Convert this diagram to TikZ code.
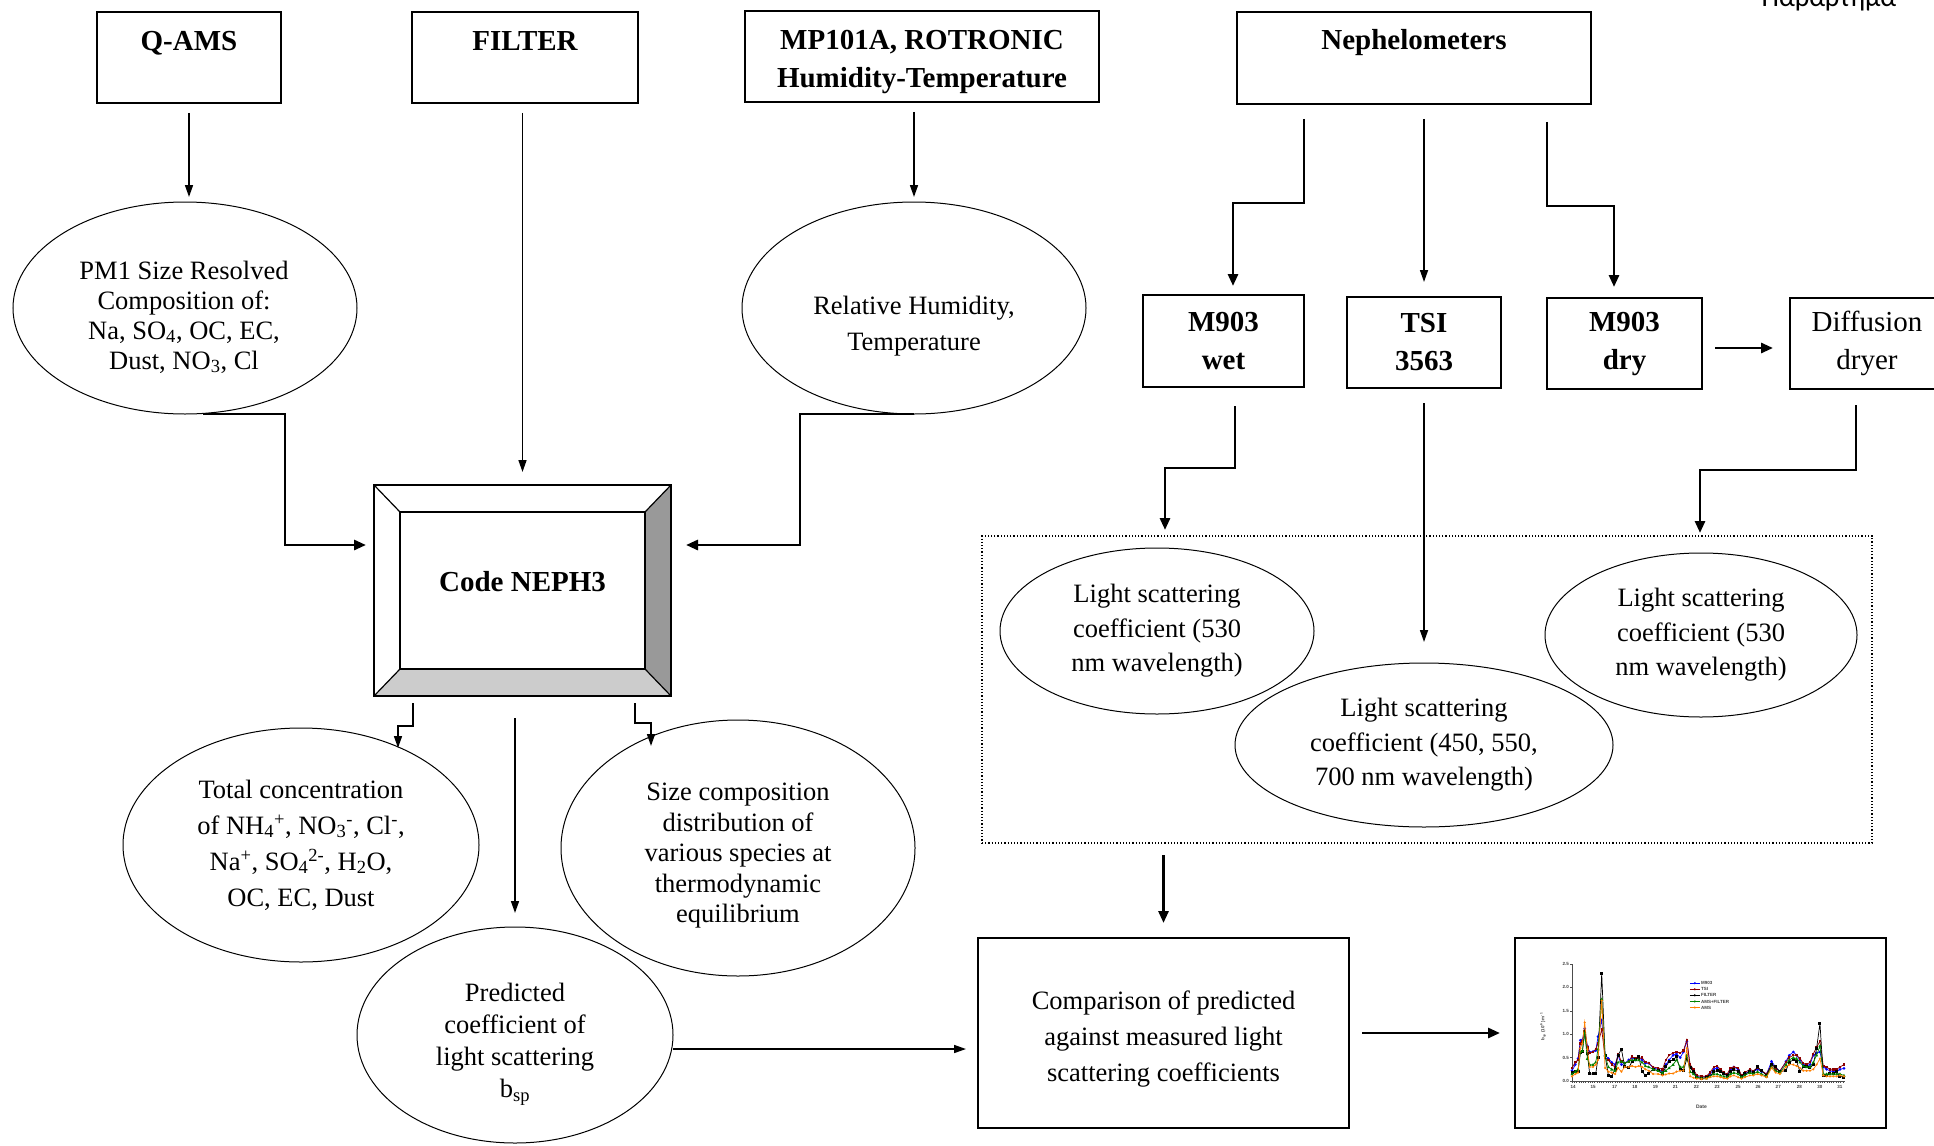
\documentclass[tikz,border=0pt]{standalone}
\usepackage{fontspec}
\setmainfont{Liberation Serif}
\newfontfamily\greekfont{Carlito}
\newfontfamily\chartfont{Liberation Sans}
\usetikzlibrary{arrows.meta,shapes.geometric}

\definecolor{bevdark}{gray}{0.6}
\definecolor{bevlight}{gray}{0.8}
\definecolor{srsmaroon}{RGB}{140,0,0}
\definecolor{srsgreen}{RGB}{0,130,0}
\definecolor{srsorange}{RGB}{255,128,0}

\tikzset{
  topbox/.style={draw, line width=2pt, rectangle, inner sep=0pt, outer sep=0pt},
  rbox/.style={draw, line width=2pt, rectangle, inner sep=0pt, outer sep=0pt, align=center},
  ell/.style={draw, ellipse, line width=1pt, inner sep=0pt, outer sep=0pt, align=center,
              font=\fontsize{26.5pt}{#1}\selectfont},
  ell/.default=34pt,
  btxt/.style={inner sep=0pt, align=center, font=\fontsize{29pt}{38pt}\selectfont\bfseries},
  rtxt/.style={inner sep=0pt, align=center, font=\fontsize{26.5pt}{#1}\selectfont},
  rtxt/.default=32pt,
  bfont/.style={font=\fontsize{29pt}{38pt}\selectfont\bfseries},
  arr/.style={line width=1.6pt, -{Triangle[length=12pt,width=8pt]}},
  tarr/.style={line width=2.8pt, -{Triangle[length=12pt,width=10pt]}},
  tiny/.style={inner sep=0pt, text=black!75, font=\chartfont\bfseries\fontsize{4.5pt}{5pt}\selectfont},
}

\begin{document}
\begin{tikzpicture}[x=1pt,y=-1pt]
\useasboundingbox (0,0) rectangle (1934,1145);
\clip (0,0) rectangle (1934,1145);
\fill[white] (0,0) rectangle (1934,1145);

% page header
\node[font=\greekfont\fontsize{28pt}{30pt}\selectfont, anchor=base, inner sep=0pt] (hdr) at (1829,7) {Παράρτημα};

% ---------- instruments (top row) ----------
\node[topbox, minimum width=184pt, minimum height=91pt] (qams) at (189,57.5) {};
\node[btxt] (qamsT) at (189,43) {Q-AMS};
\node[topbox, minimum width=226pt, minimum height=91pt] (filter) at (525,57.5) {};
\node[btxt] (filterT) at (525,41) {FILTER};
\node[topbox, minimum width=354pt, minimum height=91pt] (mp) at (922,56.5) {};
\node[btxt] (mpT) at (922,62) {MP101A, ROTRONIC\\Humidity-Temperature};
\node[topbox, minimum width=354pt, minimum height=92pt] (neph) at (1414,58) {};
\node[btxt] (nephT) at (1414,43) {Nephelometers};

% ---------- measured quantities ----------
\node[ell, minimum width=344pt, minimum height=212pt] (pm1) at (185,308) {};
\node[rtxt=30pt] (pm1T) at (184,317) {PM1 Size Resolved\\Composition of:\\Na, SO\textsubscript{4}, OC, EC,\\Dust, NO\textsubscript{3}, Cl};
\node[ell, minimum width=344pt, minimum height=212pt] (rh) at (914,308) {};
\node[rtxt=36pt] (rhT) at (914,326) {Relative Humidity,\\Temperature};

% ---------- model box with bevel ----------
\node[inner sep=0pt, outer sep=0pt, minimum width=297pt, minimum height=211pt] (neph3) at (522.5,590.5) {};
\node[inner sep=0pt, outer sep=0pt, minimum width=245pt, minimum height=157pt] (neph3in) at (522.5,590.5) {};
\fill[bevdark] (neph3.north east) -- (neph3.south east) -- (neph3in.south east) -- (neph3in.north east) -- cycle;
\fill[bevlight] (neph3.south west) -- (neph3.south east) -- (neph3in.south east) -- (neph3in.south west) -- cycle;
\draw[line width=1.2pt] (neph3.north west) -- (neph3in.north west)
  (neph3.north east) -- (neph3in.north east)
  (neph3.south west) -- (neph3in.south west)
  (neph3.south east) -- (neph3in.south east);
\draw[line width=1.6pt] (neph3in.north west) rectangle (neph3in.south east);
\draw[line width=2.2pt] (neph3.north west) rectangle (neph3.south east);
\node[btxt] (neph3T) at (522.5,582) {Code NEPH3};

% ---------- model outputs ----------
\node[ell=36pt, minimum width=356pt, minimum height=234pt] (total) at (301,845)
  {Total concentration\\of NH\textsubscript{4}\textsuperscript{+}, NO\textsubscript{3}\textsuperscript{-}, Cl\textsuperscript{-},\\Na\textsuperscript{+}, SO\textsubscript{4}\textsuperscript{2-}, H\textsubscript{2}O,\\OC, EC, Dust};
\node[ell, minimum width=354pt, minimum height=256pt] (sizec) at (738,848) {};
\node[rtxt=30.5pt] (sizecT) at (738,856)
  {Size composition\\distribution of\\various species at\\thermodynamic\\equilibrium};
\node[ell, minimum width=316pt, minimum height=216pt] (pred) at (515,1035) {};
\node[rtxt=32pt] (predT) at (515,1044)
  {Predicted\\coefficient of\\light scattering\\b\textsubscript{sp}};

% ---------- nephelometers ----------
\node[rbox, bfont, minimum width=161pt, minimum height=92pt] (wet) at (1223.5,341) {M903\\wet};
\node[rbox, bfont, minimum width=154pt, minimum height=91pt] (tsi) at (1424,342.5) {TSI\\3563};
\node[rbox, bfont, minimum width=155pt, minimum height=91pt] (dry) at (1624.5,343.5) {M903\\dry};
\node[rbox, font=\fontsize{29pt}{38pt}\selectfont, minimum width=154pt, minimum height=91pt] (diff) at (1867,343.5) {Diffusion\\dryer};

% ---------- measured scattering ----------
\node[draw, dotted, line width=1.2pt, inner sep=0pt, outer sep=0pt, minimum width=890pt, minimum height=307pt] (dots) at (1427,689.5) {};
\node[ell=34.5pt, minimum width=314pt, minimum height=166pt] (lsl) at (1157,631)
  {Light scattering\\coefficient (530\\nm wavelength)};
\node[ell=34.5pt, minimum width=378pt, minimum height=164pt] (lsm) at (1424,745)
  {Light scattering\\coefficient (450, 550,\\700 nm wavelength)};
\node[ell=34.5pt, minimum width=312pt, minimum height=164pt] (lsr) at (1701,635)
  {Light scattering\\coefficient (530\\nm wavelength)};

% ---------- comparison and result ----------
\node[rbox, minimum width=371pt, minimum height=190pt] (comp) at (1163.5,1033) {};
\node[rtxt=36pt] (compT) at (1163.5,1039)
  {Comparison of predicted\\against measured light\\scattering coefficients};
\node[draw, line width=2.6pt, inner sep=0pt, outer sep=0pt, minimum width=371pt, minimum height=190pt] (chart) at (1700.5,1033) {};

% ---------- connectors, left part ----------
\coordinate (k1) at (285,545);
\coordinate (k2) at (800,545);
\draw[arr] ([yshift=-10pt]qams.south) -- ([yshift=5pt]qams.south |- pm1.north);
\draw[arr] ([yshift=-10pt]filter.south -| neph3.north) -- ([yshift=13pt]neph3.north);
\draw[arr] ([yshift=-10pt]mp.south -| rh.north) -- ([yshift=5pt]rh.north);
\draw[tarr] ([xshift=18pt]pm1.south) -| (k1) -- ([xshift=-8pt]k1 -| neph3.west);
\draw[tarr] (rh.south) -| (k2) -- ([xshift=15pt]k2 -| neph3.east);
\draw[arr] ([xshift=-109.5pt,yshift=-7pt]neph3.south) -- ++(0,23) -- ++(-15,0) -- ++(0,22);
\draw[arr] ([xshift=112.5pt,yshift=-7pt]neph3.south) -- ++(0,20) -- ++(16,0) -- ++(0,23);
\draw[arr] ([yshift=-22pt]neph3.south -| pred.north) -- ([yshift=14pt]pred.north);
\draw[arr] ([yshift=-14pt]pred.east) -- ([xshift=-12pt,yshift=-14pt]pred.east -| comp.west);
\draw[tarr] ([xshift=13pt]comp.east) -- ([xshift=-15pt]chart.west);

% ---------- connectors, right part ----------
\coordinate (k3) at (1233,203);
\coordinate (k4) at (1614,206);
\coordinate (k5) at (1165,468);
\coordinate (k6) at (1700,470);
\draw[tarr] ([xshift=67pt,yshift=-15pt]neph.south west) |- (k3) -- ([yshift=9pt]k3 |- wet.north);
\draw[arr] ([yshift=-15pt]neph.south -| tsi.north) -- ([yshift=15pt]tsi.north);
\draw[tarr] ([xshift=-44pt,yshift=-18pt]neph.south east) |- (k4) -- ([yshift=11pt]k4 |- dry.north);
\draw[tarr] ([xshift=13pt,yshift=-4.5pt]dry.east) -- ([xshift=-17pt,yshift=-4.5pt]diff.west);
\draw[tarr] ([xshift=11.5pt,yshift=-19pt]wet.south) |- (k5) -- ([yshift=6pt]k5 |- dots.north);
\draw[arr] ([yshift=-15pt]tsi.south) -- ([yshift=21pt]lsm.north);
\draw[tarr] ([xshift=-11pt,yshift=-16pt]diff.south) |- (k6) -- ([yshift=3pt]k6 |- dots.north);
\draw[tarr] ([yshift=-12pt]dots.south -| comp.north) -- ([yshift=15pt]comp.north);

% ---------- time series chart ----------
\begin{scope}[shift={(1509.6pt,-1081pt)}, x=0.3337pt, y=46.8pt]
  \foreach \x/\a/\b/\c/\d/\e [count=\i] in {
    187/0.22/0.28/0.18/0.15/0.10, 197/0.35/0.40/0.20/0.20/0.15, 205/0.48/0.45/0.20/0.25/0.18,
    212/0.87/0.80/0.60/0.62/0.70, 218/0.88/0.85/0.62/0.65/0.80, 225/1.12/1.05/1.05/1.02/1.25,
    233/0.75/0.72/0.58/0.48/0.68, 240/0.62/0.60/0.15/0.35/0.30, 250/0.63/0.62/0.15/0.35/0.30,
    258/0.65/0.68/0.15/0.40/0.35, 265/0.95/0.80/0.50/0.68/0.45, 276/1.30/1.10/2.30/1.75/1.72,
    286/0.55/0.50/0.55/0.55/0.28, 296/0.48/0.45/0.12/0.30/0.20, 306/0.40/0.35/0.10/0.25/0.18,
    316/0.35/0.30/0.25/0.22/0.15, 325/0.55/0.58/0.55/0.40/0.28, 335/0.35/0.42/0.68/0.42/0.20,
    345/0.38/0.38/0.30/0.38/0.30, 357/0.45/0.42/0.28/0.42/0.30, 367/0.50/0.52/0.42/0.45/0.32,
    377/0.45/0.48/0.45/0.45/0.30, 387/0.50/0.48/0.52/0.45/0.32, 397/0.45/0.50/0.20/0.40/0.30,
    407/0.38/0.40/0.12/0.32/0.25, 417/0.38/0.38/0.17/0.30/0.22, 430/0.28/0.30/0.25/0.25/0.15,
    445/0.25/0.28/0.22/0.22/0.15, 458/0.20/0.25/0.15/0.18/0.12, 468/0.35/0.45/0.30/0.22/0.14,
    478/0.45/0.55/0.42/0.28/0.16, 490/0.55/0.60/0.45/0.35/0.16, 500/0.58/0.62/0.52/0.45/0.20,
    511/0.50/0.60/0.25/0.30/0.22, 521/0.62/0.65/0.22/0.30/0.22, 531/0.85/0.88/0.48/0.55/0.70,
    541/0.30/0.35/0.28/0.20/0.10, 551/0.20/0.25/0.20/0.15/0.07, 561/0.10/0.12/0.08/0.08/0.05,
    575/0.08/0.10/0.05/0.06/0.04, 590/0.10/0.10/0.08/0.06/0.05, 600/0.15/0.18/0.10/0.10/0.08,
    612/0.25/0.30/0.20/0.15/0.10, 622/0.28/0.32/0.22/0.15/0.10, 632/0.22/0.25/0.20/0.12/0.08,
    642/0.15/0.18/0.15/0.10/0.06, 652/0.12/0.15/0.12/0.08/0.05, 662/0.25/0.28/0.20/0.15/0.10,
    672/0.30/0.30/0.25/0.18/0.12, 685/0.25/0.28/0.20/0.15/0.08, 695/0.10/0.12/0.10/0.08/0.05,
    705/0.15/0.18/0.15/0.12/0.08, 720/0.22/0.25/0.20/0.18/0.12, 730/0.20/0.22/0.18/0.15/0.12,
    743/0.25/0.28/0.30/0.20/0.15, 755/0.20/0.22/0.22/0.15/0.12, 770/0.15/0.15/0.12/0.10/0.08,
    785/0.42/0.35/0.35/0.30/0.28, 797/0.30/0.25/0.30/0.22/0.18, 810/0.20/0.22/0.20/0.18/0.15,
    828/0.42/0.40/0.22/0.35/0.30, 838/0.55/0.50/0.40/0.45/0.35, 850/0.62/0.55/0.45/0.50/0.35,
    860/0.55/0.55/0.42/0.48/0.32, 870/0.45/0.48/0.20/0.40/0.28, 880/0.35/0.38/0.30/0.32/0.22,
    890/0.32/0.35/0.30/0.30/0.22, 900/0.35/0.40/0.28/0.30/0.22, 910/0.55/0.58/0.35/0.40/0.25,
    920/0.60/0.72/0.70/0.55/0.35, 930/0.62/0.85/1.23/0.75/0.48, 940/0.30/0.32/0.12/0.15/0.12,
    950/0.25/0.30/0.12/0.15/0.10, 960/0.22/0.25/0.15/0.15/0.10, 970/0.20/0.25/0.15/0.15/0.10,
    980/0.20/0.25/0.20/0.15/0.10, 990/0.25/0.30/0.10/0.15/0.12, 1002/0.27/0.35/0.08/0.12/0.10}{
    \coordinate (sa\i) at (\x,\a);
    \coordinate (sb\i) at (\x,\b);
    \coordinate (sc\i) at (\x,\c);
    \coordinate (sd\i) at (\x,\d);
    \coordinate (se\i) at (\x,\e);
    \xdef\npts{\i}
  }
  % axes
  \draw[black!70, line width=0.7pt] (187,2.5) -- (187,0) -- (1005,0);
  \foreach \v/\l [count=\n] in {0/0.0,0.5/0.5,1/1.0,1.5/1.5,2/2.0,2.5/2.5}{
    \draw[black!70, line width=0.5pt] (187,\v) -- ++(-2pt,0pt);
    \node[tiny, anchor=east] (yt\n) at ([xshift=-3pt]187,\v) {\l};
  }
  \foreach \k in {0,...,120}{
    \draw[black!70, line width=0.4pt] (187+\k*6.76,0) -- ++(0pt,-1.8pt);
  }
  \foreach \xx/\l [count=\n] in {190/14,250/15,315/17,375/18,437/19,497/21,560/22,622/23,685/25,745/26,805/27,868/28,930/30,990/31}{
    \node[tiny, anchor=north] (xt\n) at ([yshift=-4pt]\xx,0) {\l};
  }
  \node[tiny, font=\chartfont\bfseries\fontsize{5pt}{6pt}\selectfont] (xlab) at (575,-0.544) {Date};
  \node[tiny, rotate=90] (ylab) at (100,1.16) {b\textsubscript{sp} (10\textsuperscript{-6}) m\textsuperscript{-1}};
  % series
  \draw[blue, line width=0.7pt] (sa1) \foreach \i in {2,...,\npts}{ -- (sa\i)};
  \foreach \i in {1,...,\npts}{\fill[blue] (sa\i) ++(-1.5pt,0pt) -- ++(1.5pt,1.5pt) -- ++(1.5pt,-1.5pt) -- ++(-1.5pt,-1.5pt) -- cycle;}
  \draw[srsmaroon, line width=0.7pt] (sb1) \foreach \i in {2,...,\npts}{ -- (sb\i)};
  \foreach \i in {1,...,\npts}{\fill[srsmaroon] (sb\i) ++(-1.2pt,-1.2pt) rectangle ++(2.4pt,2.4pt);}
  \draw[black, line width=0.7pt] (sc1) \foreach \i in {2,...,\npts}{ -- (sc\i)};
  \foreach \i in {1,...,\npts}{\fill[black] (sc\i) ++(-1.5pt,-1.5pt) rectangle ++(3pt,3pt);}
  \draw[srsgreen, line width=0.7pt] (sd1) \foreach \i in {2,...,\npts}{ -- (sd\i)};
  \foreach \i in {1,...,\npts}{\fill[srsgreen] (sd\i) ++(-1.6pt,-1.2pt) -- ++(3.2pt,0pt) -- ++(-1.6pt,2.8pt) -- cycle;}
  \draw[srsorange, line width=0.7pt] (se1) \foreach \i in {2,...,\npts}{ -- (se\i)};
  \foreach \i in {1,...,\npts}{\fill[srsorange] (se\i) circle[radius=1.2pt];}
  % legend
  \foreach \c/\y/\l [count=\n] in {blue/2.09/M903, srsmaroon/1.96/TSI, black/1.83/FILTER, srsgreen/1.70/AMS+FILTER, srsorange/1.57/AMS}{
    \draw[\c, line width=0.7pt] (540,\y) -- (570,\y);
    \fill[\c] (555,\y) circle[radius=1.2pt];
    \node[tiny, anchor=west] (lg\n) at ([xshift=1pt]570,\y) {\l};
  }
\end{scope}
\end{tikzpicture}
\end{document}
